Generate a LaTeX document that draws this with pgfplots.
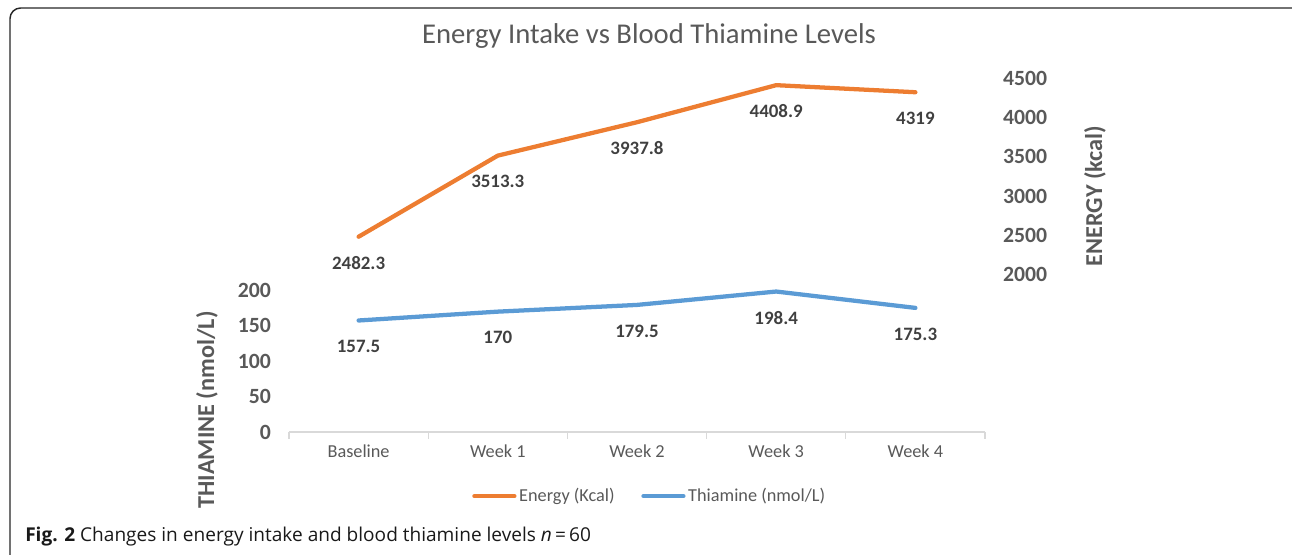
\documentclass[border=0pt]{standalone}
\usepackage{pgfplots}
\pgfplotsset{compat=1.18}
\usepackage{fontspec}
\setmainfont{Carlito}
\newfontfamily\capfont{Open Sans}
\definecolor{eorange}{HTML}{ED7D31}
\definecolor{tblue}{HTML}{5B9BD5}
\definecolor{txtgray}{HTML}{595959}
\definecolor{lblgray}{HTML}{404040}
\definecolor{axgray}{HTML}{D9D9D9}
\pgfplotstableread{
x y lab
0 157.5 157.5
1 170 170
2 179.5 179.5
3 198.4 198.4
4 175.3 175.3
}\thiamine
\pgfplotstableread{
x y lab
0 2482.3 2482.3
1 3513.3 3513.3
2 3937.8 3937.8
3 4408.9 4408.9
4 4319 4319
}\energy
\begin{document}
\begin{tikzpicture}
\useasboundingbox (0,0) rectangle (969pt,-416.25pt);
\begin{scope}
\clip (0,0) rectangle (969pt,-416.25pt);
\draw[line width=1.1pt, black!85, rounded corners=8pt] (7.5pt,-6pt) rectangle (985pt,-425pt);
\end{scope}
\pgfplotsset{
  common/.style={
    scale only axis, width=522pt, height=265.5pt,
    at={(216.75pt,-324pt)}, anchor=south west,
    xmin=-0.5, xmax=4.5,
    /pgf/number format/assume math mode=true,
    /pgf/number format/1000 sep={},
  },
  lbl/.style={
    nodes near coords, point meta=explicit symbolic,
    every node near coord/.append style={anchor=center, yshift=-19.5pt,
      font=\bfseries\fontsize{14.2}{16}\selectfont, text=lblgray},
  },
}
\begin{axis}[common,
  ymin=0, ymax=500,
  xtick={0,...,4}, xticklabels={Baseline,Week 1,Week 2,Week 3,Week 4},
  ytick={0,50,100,150,200},
  axis x line*=bottom, axis y line*=left,
  x axis line style={draw=axgray, line width=0.9pt, -},
  y axis line style={draw=none},
  major tick length=0pt,
  extra x ticks={-0.5,0.5,1.5,2.5,3.5,4.5},
  extra x tick labels={},
  extra x tick style={major tick length=5pt, tick align=outside, tick style={draw=axgray, line width=0.9pt}},
  xticklabel style={font=\fontsize{13.7}{15}\selectfont, text=txtgray, yshift=-6pt},
  yticklabel style={font=\bfseries\fontsize{16.3}{18}\selectfont, text=txtgray, xshift=-10pt},
  legend style={at={(0.5187,-0.181)}, anchor=center, draw=none, fill=none,
    legend columns=2, font=\fontsize{13.7}{15}\selectfont, text=txtgray,
    /tikz/every even column/.append style={column sep=18pt},
    inner sep=0pt, outer sep=0pt},
  legend image code/.code={\draw[#1, line width=3.2pt, line cap=round] (0pt,0pt) -- (30pt,0pt);},
]
\addlegendimage{eorange}
\addlegendentry{Energy (Kcal)}
\addplot[tblue, line width=3.2pt, line join=round, line cap=round, lbl] table[x=x, y=y, meta=lab] {\thiamine};
\addlegendentry{Thiamine (nmol/L)}
\end{axis}
\begin{axis}[common,
  ymin=0, ymax=4500,
  axis x line=none, axis y line*=right,
  y axis line style={draw=none},
  major tick length=0pt,
  ytick={2000,2500,3000,3500,4000,4500},
  yticklabel style={font=\bfseries\fontsize{16.3}{18}\selectfont, text=txtgray, xshift=10pt},
]
\addplot[eorange, line width=3.2pt, line join=round, line cap=round, lbl] table[x=x, y=y, meta=lab] {\energy};
\end{axis}
\begin{scope}[x=0.75pt, y=-0.75pt]
\node[text=txtgray, font=\fontsize{21.5}{24}\selectfont] at (649,36) {Energy Intake vs Blood Thiamine Levels};
\node[text=txtgray, font=\bfseries\fontsize{18.2}{21}\selectfont, rotate=90] at (207,410) {THIAMINE (nmol/L)};
\node[text=txtgray, font=\bfseries\fontsize{18.2}{21}\selectfont, rotate=90] at (1095,196) {ENERGY (kcal)};
\node[anchor=west, inner sep=0pt, text=black!90, font=\capfont\fontsize{14.3}{16}\selectfont] at (25,537) {\textbf{Fig. 2} Changes in energy intake and blood thiamine levels \textit{n}\,=\,60};
\end{scope}
\end{tikzpicture}
\end{document}
